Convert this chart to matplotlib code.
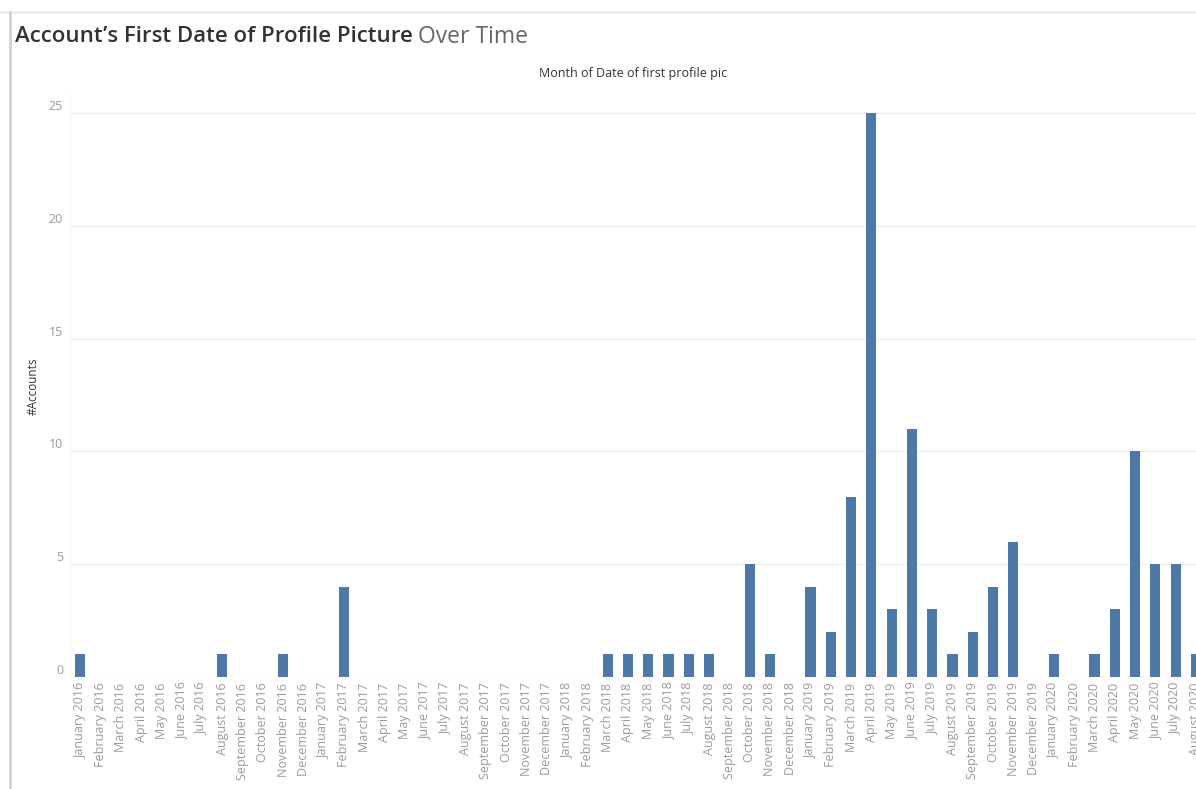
import matplotlib
matplotlib.use("Agg")
import matplotlib.pyplot as plt
from matplotlib.lines import Line2D

plt.rcParams['font.family'] = ['Open Sans', 'DejaVu Sans']

# months Jan 2016 .. Aug 2020
month_names = ['January', 'February', 'March', 'April', 'May', 'June', 'July',
               'August', 'September', 'October', 'November', 'December']
years = [2016, 2017, 2018, 2019, 2020]
months = [f"{m} {y}" for y in years for m in month_names][:56]

counts = [
    1, 0, 0, 0, 0, 0, 0, 1, 0, 0, 1, 0,      # 2016
    0, 4, 0, 0, 0, 0, 0, 0, 0, 0, 0, 0,      # 2017
    0, 0, 1, 1, 1, 1, 1, 1, 0, 5, 1, 0,      # 2018
    4, 2, 8, 25, 3, 11, 3, 1, 2, 4, 6, 0,    # 2019
    1, 0, 1, 3, 10, 5, 5, 1,                 # 2020
]

bar_color = '#4e79a7'
W, H = 1196, 789

fig = plt.figure(figsize=(W / 100, H / 100), dpi=100)
fig.patch.set_facecolor('white')

# plot area: left edge at x=70px, zero line at y=677px, cut at the right edge
ax = fig.add_axes([70 / W, 1 - 677 / H, 1 - 70 / W, (677 - 95) / H])
x = list(range(len(months)))
ax.bar(x, counts, width=0.5, color=bar_color, zorder=3)

ax.set_xlim(-0.5, 54.9)
ax.set_ylim(0, 25.8)
ax.set_yticks([0, 5, 10, 15, 20, 25])
ax.set_xticks(x)
ax.set_xticklabels(months, rotation=90, fontsize=9, color='#9a9a9a')
ax.tick_params(axis='y', labelsize=9, colors='#9a9a9a', length=0, pad=5)
ax.tick_params(axis='x', length=0, pad=4)
for lbl in ax.get_yticklabels():
    lbl.set_verticalalignment('bottom')

ax.grid(axis='y', color='#f0f0f0', linewidth=1, zorder=0)
for s in ['top', 'right', 'bottom']:
    ax.spines[s].set_visible(False)
ax.spines['left'].set_color('#f2f2f2')

ax.set_ylabel('#Accounts', fontsize=8.5, color='#333333')
ax.yaxis.set_label_coords(-30 / 1126, 0.5)

# sheet frame
fig.add_artist(Line2D([0, 1], [1 - 12 / H, 1 - 12 / H], color='#ececec', lw=2,
                      transform=fig.transFigure))
fig.add_artist(Line2D([10 / W, 10 / W], [0, 1 - 12 / H], color='#d4d4d4', lw=2,
                      transform=fig.transFigure))

# title: bold part + regular part
t1 = fig.text(15 / W, 1 - 37 / H, "Account\u2019s First Date of Profile Picture",
              fontsize=16, fontweight='semibold', color='#333333', va='center')
fig.canvas.draw()
bb = t1.get_window_extent(renderer=fig.canvas.get_renderer())
fig.text(bb.x1 / W + 5 / W, 1 - 37 / H, "Over Time", fontsize=16.5,
         color='#666666', va='center')

fig.text(633 / W, 1 - 73 / H, "Month of Date of first profile pic",
         fontsize=9, color='#333333', ha='center', va='center')

fig.savefig('out.png', dpi=100, facecolor='white')
